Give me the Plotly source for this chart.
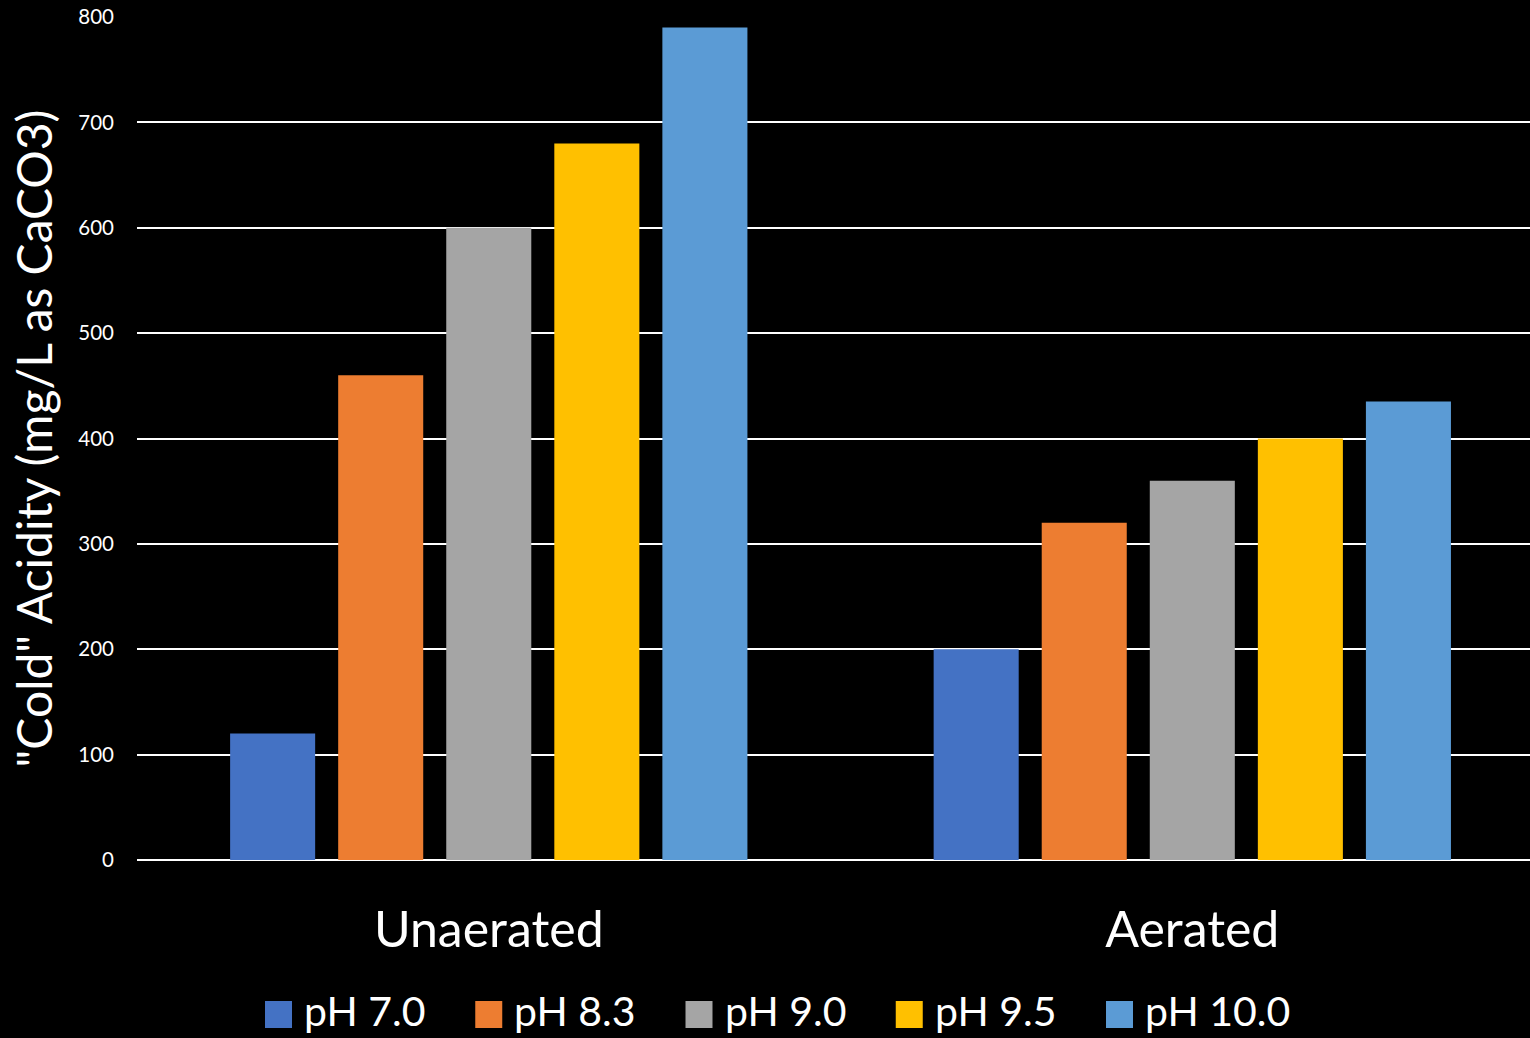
import plotly.graph_objects as go

categories = ["Unaerated", "Aerated"]
series_names = ["pH 7.0", "pH 8.3", "pH 9.0", "pH 9.5", "pH 10.0"]
values = {
    "pH 7.0": [120, 200],
    "pH 8.3": [460, 320],
    "pH 9.0": [600, 360],
    "pH 9.5": [680, 400],
    "pH 10.0": [790, 435],
}
colors = ["#4472C4", "#ED7D31", "#A5A5A5", "#FFC000", "#5B9BD5"]
y_ticks = [0, 100, 200, 300, 400, 500, 600, 700, 800]

FONT = "Lato, Carlito, Calibri, sans-serif"

W, H = 1530, 1038
ML, MR, MT, MB = 137, 0, 17, 178
PW, PH = W - ML - MR, H - MT - MB

def px_to_paper_x(px):
    return (px - ML) / PW

def px_to_paper_y(py):
    return (H - MB - py) / PH

fig = go.Figure()
for name, c in zip(series_names, colors):
    fig.add_trace(go.Bar(x=categories, y=values[name], name=name, marker_color=c,
                         marker_line_width=0, showlegend=False))

# manual legend (large square swatches like the original)
shapes, annots = [], []
leg_x0, leg_pitch, sw = 265, 210.25, 27
for i, (name, c) in enumerate(zip(series_names, colors)):
    x0 = leg_x0 + i * leg_pitch
    shapes.append(dict(type="rect", xref="paper", yref="paper",
                       x0=px_to_paper_x(x0), x1=px_to_paper_x(x0 + sw),
                       y0=px_to_paper_y(1028), y1=px_to_paper_y(1001),
                       fillcolor=c, line=dict(width=0)))
    annots.append(dict(text=name, xref="paper", yref="paper",
                       x=px_to_paper_x(x0 + sw + 11), y=px_to_paper_y(1036),
                       xanchor="left", yanchor="bottom", showarrow=False,
                       borderpad=0,
                       font=dict(size=41, color="white", family=FONT)))

fig.update_layout(
    width=W, height=H,
    paper_bgcolor="black", plot_bgcolor="black",
    font=dict(family=FONT, color="white"),
    margin=dict(l=ML, r=MR, t=MT, b=MB, autoexpand=False),
    barmode="group", bargap=0.232, bargroupgap=0.213,
    showlegend=False,
    shapes=shapes, annotations=annots,
    xaxis=dict(range=[-0.5, 1.48], showgrid=False, tickfont=dict(size=50, color="white"),
               ticks="", ticklabelstandoff=36, showline=False, automargin=False),
    yaxis=dict(range=[0, 800], tickvals=y_ticks, showgrid=True, gridcolor="white",
               gridwidth=1.5, zeroline=True, zerolinecolor="white", zerolinewidth=2,
               tickfont=dict(size=20.5, color="white"), ticks="", ticklabelstandoff=22,
               automargin=False,
               title=dict(text='"Cold" Acidity (mg/L as CaCO3)',
                          font=dict(size=48, color="white"), standoff=10)),
)

fig.write_html("out.html")
